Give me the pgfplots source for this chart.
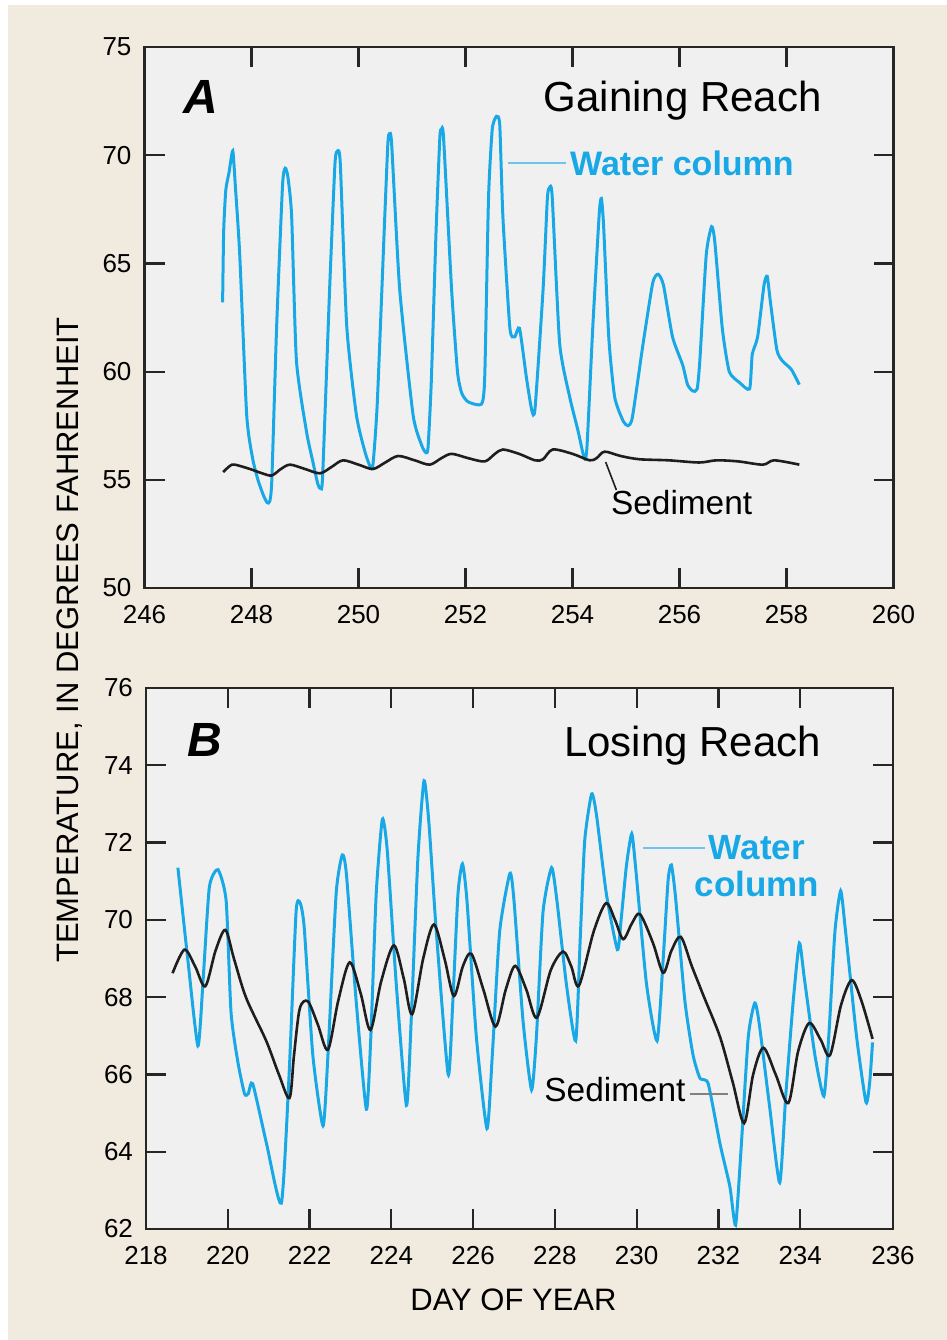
\documentclass[border=0pt]{standalone}
\usepackage{pgfplots}
\pgfplotsset{compat=1.18}
\usepackage{fontspec}
\setmainfont{Liberation Sans}
\definecolor{beige}{RGB}{240,234,223}
\definecolor{axbg}{RGB}{240,240,240}
\definecolor{wblue}{RGB}{25,168,230}
\definecolor{lblue}{RGB}{110,195,240}
\definecolor{sedc}{RGB}{30,30,30}

\pgfplotstableread{
day T
247.46 63.2
247.48 66.5
247.52 68.4
247.58 69.2
247.65 70.2
247.70 68.5
247.78 65.4
247.91 58.0
248.02 56.0
248.12 55.0
248.22 54.3
248.29 53.95
248.34 54.0
248.38 55.0
248.47 62.1
248.58 68.6
248.63 69.4
248.68 69.0
248.75 67.2
248.84 60.5
249.03 57.2
249.15 55.8
249.24 54.8
249.29 54.6
249.33 55.2
249.46 63.8
249.56 69.6
249.61 70.2
249.66 69.6
249.78 62.1
249.96 58.0
250.12 56.3
250.22 55.6
250.27 55.7
250.35 58.5
250.49 67.1
250.55 70.6
250.58 71.0
250.62 70.5
250.77 63.8
251.02 58.0
251.18 56.6
251.26 56.25
251.30 56.5
251.36 59.5
251.45 66.5
251.52 70.8
251.55 71.2
251.59 70.8
251.74 63.8
251.85 60.0
251.93 59.0
252.05 58.6
252.30 58.5
252.36 59.8
252.43 68.0
252.50 71.2
252.58 71.8
252.64 71.4
252.70 67.1
252.83 62.0
252.92 61.6
253.01 62.0
253.14 59.7
253.24 58.2
253.30 58.3
253.45 63.8
253.53 68.0
253.57 68.5
253.62 68.1
253.76 61.3
253.95 58.8
254.10 57.3
254.22 56.0
254.27 56.5
254.38 62.1
254.50 67.3
254.54 68.0
254.58 66.8
254.68 61.5
254.79 58.8
254.95 57.7
255.04 57.5
255.12 57.9
255.32 61.3
255.50 64.1
255.60 64.5
255.70 64.0
255.87 61.6
256.06 60.3
256.15 59.4
256.25 59.1
256.33 59.2
256.38 60.5
256.50 65.4
256.60 66.7
256.66 66.0
256.80 62.0
256.93 60.0
257.12 59.5
257.31 59.2
257.36 60.8
257.46 61.6
257.58 64.0
257.64 64.4
257.70 63.2
257.82 61.0
257.92 60.5
258.09 60.1
258.24 59.4
}\waterA

\pgfplotstableread{
day T
247.47 55.36
247.60 55.65
247.69 55.70
247.97 55.50
248.20 55.30
248.38 55.20
248.55 55.50
248.72 55.70
249.00 55.50
249.28 55.30
249.50 55.60
249.71 55.90
250.00 55.70
250.27 55.50
250.50 55.80
250.74 56.10
251.05 55.90
251.33 55.70
251.55 56.00
251.74 56.20
252.05 56.00
252.36 55.85
252.55 56.20
252.70 56.40
253.00 56.20
253.30 55.90
253.45 55.95
253.63 56.40
254.00 56.20
254.32 55.90
254.45 56.00
254.60 56.30
254.90 56.10
255.25 55.95
255.80 55.90
256.37 55.80
256.69 55.90
257.10 55.85
257.56 55.70
257.77 55.90
258.24 55.70
}\sedA

\pgfplotstableread{
day T
218.78 71.35
219.02 69.0
219.27 66.74
219.40 68.5
219.55 70.85
219.76 71.3
219.96 70.5
220.08 67.6
220.25 66.3
220.41 65.5
220.50 65.5
220.61 65.76
220.95 64.2
221.31 62.67
221.50 66.0
221.67 70.2
221.77 70.44
221.87 69.8
222.08 66.5
222.33 64.67
222.45 66.5
222.65 70.67
222.80 71.68
222.90 71.2
223.14 67.9
223.39 65.1
223.50 67.0
223.63 70.67
223.78 72.6
223.90 71.8
224.12 68.35
224.37 65.2
224.49 67.5
224.65 71.6
224.80 73.6
224.92 72.5
225.10 69.7
225.39 66.0
225.50 67.8
225.63 70.67
225.74 71.45
225.85 70.5
226.08 66.97
226.34 64.6
226.47 66.5
226.65 69.7
226.90 71.2
227.00 70.5
227.22 67.4
227.43 65.6
227.55 67.0
227.71 70.2
227.92 71.35
228.05 70.5
228.28 68.35
228.51 66.87
228.62 69.5
228.73 72.05
228.90 73.26
229.02 72.7
229.26 70.67
229.53 69.23
229.62 70.0
229.75 71.4
229.88 72.23
229.98 71.3
230.24 68.35
230.50 66.87
230.65 69.0
230.77 71.03
230.85 71.42
230.95 70.6
231.18 67.9
231.38 66.5
231.55 65.9
231.75 65.76
232.04 64.2
232.28 63.1
232.42 62.1
232.55 64.0
232.73 66.97
232.89 67.85
233.00 67.3
233.26 65.1
233.50 63.2
233.65 65.5
233.83 67.9
233.98 69.4
234.10 68.5
234.36 66.5
234.58 65.44
234.70 67.0
234.85 69.7
234.99 70.75
235.10 69.8
235.38 66.97
235.61 65.28
235.70 65.8
235.77 66.83
}\waterB

\pgfplotstableread{
day T
218.65 68.62
218.94 69.23
219.20 68.8
219.45 68.28
219.70 69.2
219.94 69.74
220.15 69.0
220.45 67.98
220.94 66.87
221.25 66.0
221.51 65.39
221.62 66.5
221.76 67.7
221.96 67.89
222.20 67.3
222.45 66.64
222.70 67.9
222.98 68.9
223.25 68.1
223.49 67.15
223.75 68.4
224.06 69.34
224.30 68.5
224.51 67.56
224.78 69.0
225.04 69.88
225.30 69.0
225.53 68.03
225.75 68.8
225.96 69.12
226.25 68.2
226.55 67.24
226.80 68.2
227.03 68.81
227.30 68.2
227.56 67.47
227.90 68.7
228.20 69.18
228.40 68.8
228.59 68.3
228.95 69.7
229.25 70.43
229.47 70.0
229.67 69.5
229.88 69.9
230.08 70.15
230.40 69.4
230.65 68.63
230.85 69.2
231.08 69.56
231.35 68.8
231.65 68.0
232.04 66.97
232.35 65.8
232.63 64.74
232.85 66.0
233.10 66.69
233.40 66.0
233.71 65.26
233.95 66.6
234.22 67.33
234.50 66.9
234.73 66.5
235.00 67.8
235.26 68.44
235.50 67.9
235.77 66.92
}\sedB

\pgfplotsset{
  panel/.style={
    scale only axis,
    height=270.5pt,
    axis background/.style={fill=axbg},
    axis line style={line width=1.3pt, black!85},
    tick align=inside,
    xtick pos=both, ytick pos=both,
    major tick length=10pt,
    every tick/.style={line width=1.1pt, black!85},
    ticklabel style={font=\fontsize{13}{15}\selectfont},
    /pgf/number format/assume math mode=true,
    xticklabel style={yshift=-5pt},
    yticklabel style={xshift=-3pt},
    clip=false,
  },
  wline/.style={wblue, line width=1.5pt, smooth, tension=0.35},
  sline/.style={sedc, line width=1.3pt, smooth, tension=0.5},
}

\begin{document}
\begin{tikzpicture}
\path[use as bounding box, fill=white] (0,0) rectangle (473.5pt,-670pt);
\fill[beige] (4pt,-2.5pt) rectangle (473.5pt,-670pt);

% Panel A
\begin{axis}[panel, width=374.5pt,
  at={(72.25pt,-23.5pt)}, anchor=north west,
  xmin=246, xmax=260, ymin=50, ymax=75,
  xtick={246,248,...,260}, ytick={50,55,...,75}]
\addplot[wline] table[x=day,y=T] {\waterA};
\addplot[sline] table[x=day,y=T] {\sedA};
\node[font=\fontsize{24}{26}\selectfont\bfseries\itshape] at (axis cs:247.05,72.7) {A};
\node[font=\fontsize{21}{24}\selectfont] at (axis cs:256.06,72.5) {Gaining Reach};
\draw[lblue, line width=1pt] (axis cs:252.79,69.64) -- (axis cs:253.87,69.64);
\node[anchor=west, inner sep=0pt, text=wblue, font=\fontsize{17}{20}\selectfont\bfseries] at (axis cs:253.95,69.64) {Water column};
\draw[sedc, line width=0.8pt] (axis cs:254.62,55.82) -- (axis cs:254.82,54.53);
\node[font=\fontsize{16.7}{19}\selectfont] at (axis cs:256.04,53.93) {Sediment};
\end{axis}

% Panel B
\begin{axis}[panel, width=373.5pt,
  at={(73pt,-344pt)}, anchor=north west,
  xmin=218, xmax=236.27, ymin=62, ymax=76,
  xtick={218,220,222,224,226,228,230,232,234,236.27},
  xticklabels={218,220,222,224,226,228,230,232,234,236},
  ytick={62,64,...,76}]
\addplot[wline] table[x=day,y=T] {\waterB};
\addplot[sline] table[x=day,y=T] {\sedB};
\node[font=\fontsize{24}{26}\selectfont\bfseries\itshape] at (axis cs:219.43,74.65) {B};
\node[font=\fontsize{21}{24}\selectfont] at (axis cs:231.37,74.5) {Losing Reach};
\draw[lblue, line width=1pt] (axis cs:230.15,71.86) -- (axis cs:231.67,71.86);
\node[align=center, inner sep=0pt, text=wblue, font=\fontsize{17.5}{18.5}\selectfont\bfseries] at (axis cs:232.94,71.4) {Water\\column};
\node[font=\fontsize{16.7}{19}\selectfont] at (axis cs:229.47,65.6) {Sediment};
\draw[gray, line width=1pt] (axis cs:231.30,65.49) -- (axis cs:232.23,65.49);
\end{axis}

\node[rotate=90, font=\fontsize{15.5}{17}\selectfont] at (35pt,-320pt) {TEMPERATURE, IN DEGREES FAHRENHEIT};
\node[font=\fontsize{15.5}{18}\selectfont] at (256.75pt,-650pt) {DAY OF YEAR};
\end{tikzpicture}
\end{document}
